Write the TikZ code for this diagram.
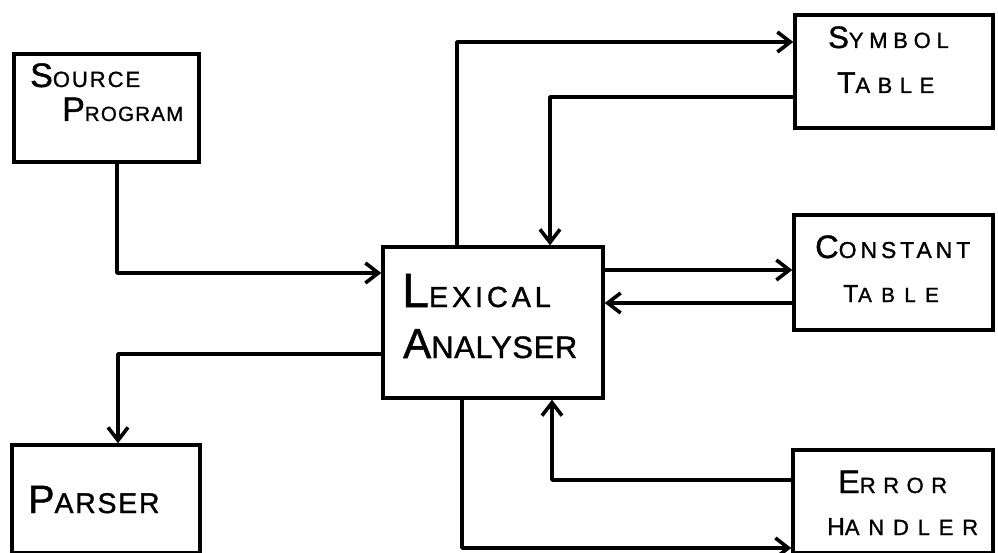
\documentclass[tikz,border=0pt]{standalone}
\usepackage{fontspec}
\setmainfont{Liberation Sans}[FakeBold=1.2]
\usetikzlibrary{arrows.meta}
\newcommand{\hw}[5]{{\addfontfeatures{LetterSpace=#1}\fontsize{#2}{#2}\selectfont #4\fontsize{#3}{#3}\selectfont #5}}
\tikzset{
  box/.style={draw, line width=3.4pt, rectangle, inner sep=0pt},
  txt/.style={inner sep=0pt, anchor=base west},
  arr/.style={line width=3.6pt, line join=round, -{Straight Barb[length=13pt,width=20pt]}},
}
\begin{document}
\begin{tikzpicture}[x=1pt,y=-1pt]
\useasboundingbox (0,0) rectangle (998,553);
\clip (0,0) rectangle (998,553);
% boxes
\node[box, minimum width=185pt, minimum height=108pt] (src) at (106.5,108) {};
\node[box, minimum width=220pt, minimum height=151pt] (lex) at (493,322.5) {};
\node[box, minimum width=198pt, minimum height=113pt] (sym) at (894,71.5) {};
\node[box, minimum width=199pt, minimum height=115pt] (con) at (893.5,272.5) {};
\node[box, minimum width=188pt, minimum height=108pt] (par) at (106,499) {};
\node[box, minimum width=200pt, minimum height=103pt] (err) at (893,501.5) {};
% texts
\node[txt] (t1) at (30,87) {\hw{9}{34}{22}{S}{OURCE}};
\node[txt] (t2) at (62,121) {\hw{6}{34}{20.5}{P}{ROGRAM}};
\node[txt] (t3) at (402,307) {\hw{13}{48}{29}{L}{EXICAL}};
\node[txt] (t4) at (403,358) {\hw{2}{42}{31}{A}{NALYSER}};
\node[txt] (t5) at (828,48) {\hw{26}{31}{22}{S}{YMBOL}};
\node[txt] (t6) at (837,93) {\hw{34}{30}{22}{T}{ABLE}};
\node[txt] (t7) at (815,258) {\hw{17}{32.5}{23}{C}{ONSTANT}};
\node[txt] (t8) at (843,302) {\hw{46}{24.5}{20.5}{T}{ABLE}};
\node[txt] (t9) at (28,513) {\hw{6}{39.5}{28.5}{P}{ARSER}};
\node[txt] (t10) at (838,493) {\hw{34}{32.5}{22}{E}{RROR}};
\node[txt] (t11) at (827,535) {\hw{40}{24.5}{22}{H}{ANDLER}};
% connectors
\draw[arr] (src.south -| 117,0) |- (lex.west |- 0,273);
\draw[arr] (lex.north -| 457,0) |- (sym.west |- 0,42);
\draw[arr] (sym.west |- 0,97) -| (lex.north -| 550,0);
\draw[arr] (lex.east |- 0,270) -- (con.west |- 0,270);
\draw[arr] (con.west |- 0,303) -- (lex.east |- 0,303);
\draw[arr] (lex.west |- 0,354) -| (par.north -| 118,0);
\draw[arr] (lex.south -| 462,0) |- (err.west |- 0,548);
\draw[arr] (err.west |- 0,480) -| (lex.south -| 552,0);
\end{tikzpicture}
\end{document}
